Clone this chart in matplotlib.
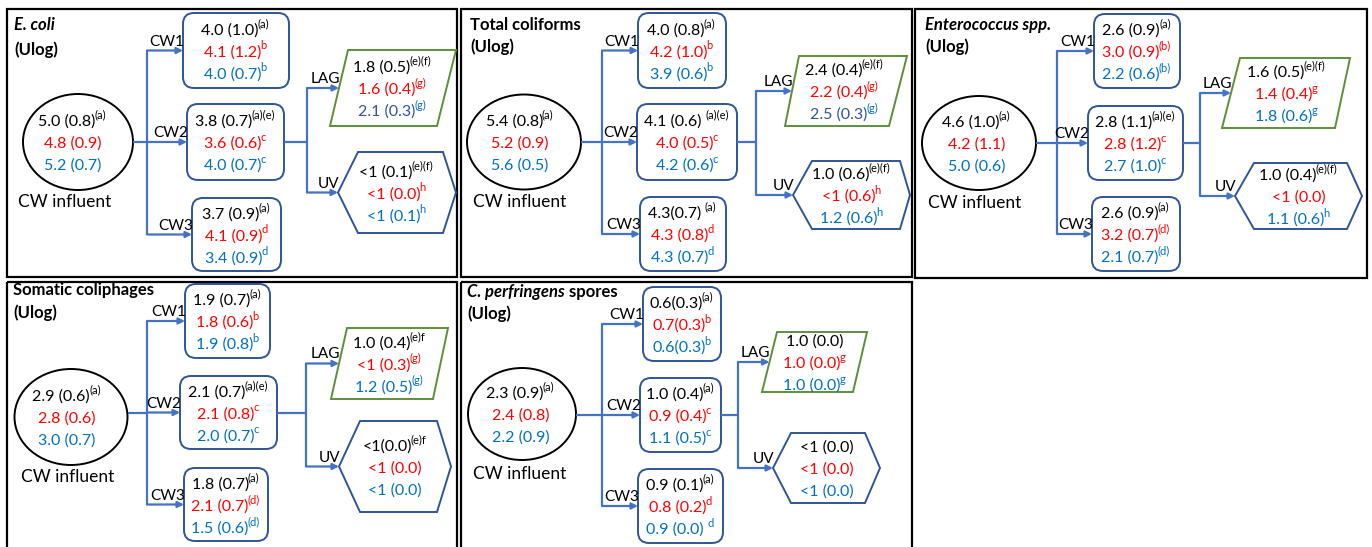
import matplotlib.pyplot as plt
from matplotlib.patches import Ellipse, FancyBboxPatch, Polygon, Rectangle

plt.rcParams["font.family"] = ["Lato", "DejaVu Sans"]

# ---- values ("text|superscript") ----
titles = [
    [("E. coli", "italic")],
    [("Total coliforms", "normal")],
    [("Enterococcus spp.", "italic")],
    [("Somatic coliphages", "normal")],
    [("C. perfringens", "italic"), (" spores", "normal")],
]
influent = [
    ["5.0 (0.8)|(a)", "4.8 (0.9)", "5.2 (0.7)"],
    ["5.4 (0.8)|(a)", "5.2 (0.9)", "5.6 (0.5)"],
    ["4.6 (1.0)|(a)", "4.2 (1.1)", "5.0 (0.6)"],
    ["2.9 (0.6)|(a)", "2.8 (0.6)", "3.0 (0.7)"],
    ["2.3 (0.9)|(a)", "2.4 (0.8)", "2.2 (0.9)"],
]
cw1 = [
    ["4.0 (1.0)|(a)", "4.1 (1.2)|b", "4.0 (0.7)|b"],
    ["4.0 (0.8)|(a)", "4.2 (1.0)|b", "3.9 (0.6)|b"],
    ["2.6 (0.9)|(a)", "3.0 (0.9)|(b)", "2.2 (0.6)|(b)"],
    ["1.9 (0.7)|(a)", "1.8 (0.6)|b", "1.9 (0.8)|b"],
    ["0.6(0.3)|(a)", "0.7(0.3)|b", "0.6(0.3)|b"],
]
cw2 = [
    ["3.8 (0.7)|(a)(e)", "3.6 (0.6)|c", "4.0 (0.7)|c"],
    ["4.1 (0.6) |(a)(e)", "4.0 (0.5)|c", "4.2 (0.6)|c"],
    ["2.8 (1.1)|(a)(e)", "2.8 (1.2)|c", "2.7 (1.0)|c"],
    ["2.1 (0.7)|(a)(e)", "2.1 (0.8)|c", "2.0 (0.7)|c"],
    ["1.0 (0.4)|(a)", "0.9 (0.4)|c", "1.1 (0.5)|c"],
]
cw3 = [
    ["3.7 (0.9)|(a)", "4.1 (0.9)|d", "3.4 (0.9)|d"],
    ["4.3(0.7) |(a)", "4.3 (0.8)|d", "4.3 (0.7)|d"],
    ["2.6 (0.9)|(a)", "3.2 (0.7)|(d)", "2.1 (0.7)|(d)"],
    ["1.8 (0.7)|(a)", "2.1 (0.7)|(d)", "1.5 (0.6)|(d)"],
    ["0.9 (0.1)|(a)", "0.8 (0.2)|d", "0.9 (0.0) |d"],
]
lag = [
    ["1.8 (0.5)|(e)(f)", "1.6 (0.4)|(g)", "2.1 (0.3)|(g)"],
    ["2.4 (0.4)|(e)(f)", "2.2 (0.4)|(g)", "2.5 (0.3)|(g)"],
    ["1.6 (0.5)|(e)(f)", "1.4 (0.4)|g", "1.8 (0.6)|g"],
    ["1.0 (0.4)|(e)f", "<1 (0.3)|(g)", "1.2 (0.5)|(g)"],
    ["1.0 (0.0)", "1.0 (0.0)|g", "1.0 (0.0)|g"],
]
uv = [
    ["<1 (0.1)|(e)(f)", "<1 (0.0)|h", "<1 (0.1)|h"],
    ["1.0 (0.6)|(e)(f)", "<1 (0.6)|h", "1.2 (0.6)|h"],
    ["1.0 (0.4)|(e)(f)", "<1 (0.0)", "1.1 (0.6)|h"],
    ["<1(0.0)|(e)f", "<1 (0.0)", "<1 (0.0)"],
    ["<1 (0.0)", "<1 (0.0)", "<1 (0.0)"],
]
cw_names = ["CW1", "CW2", "CW3"]

# ---- styles ----
LINE_COLORS = ["black", "#FF0000", "#0070C0"]
DARK_BLUE = "#2F5597"
lag_third_dark = [True, True, False, False, False]
ARROW = "#4472C4"
GREEN = "#5E8E3A"
VAL_FS, SUP_FS, LBL_FS, INFL_FS, TITLE_FS = 11.5, 8, 11, 12.5, 12
SPACING = 22

# ---- layout in pixels ----
layout = [
    dict(frame=(7, 9, 457, 277), title=(14, 25, 50), ell=(78, 142, 110, 96), ell_tx=73, infl=(65, 202),
         trunk=147, boxes=[(183, 13, 289, 88), (187, 104, 284, 180), (192, 198, 281, 271)],
         split=307, lag=(50, 126, 330, 348, 456, 437), uv=(152, 233, 338, 358, 443, 456)),
    dict(frame=(461, 9, 912, 277), title=(470, 25, 47), ell=(524, 142, 114, 95), ell_tx=520, infl=(520, 202),
         trunk=602, boxes=[(638, 13, 726, 88), (637, 104, 737, 180), (640, 197, 726, 271)],
         split=756, lag=(56, 126, 785, 799, 907, 889), uv=(161, 229, 793, 812, 900, 910)),
    dict(frame=(915, 9, 1367, 278), title=(925, 25, 47), ell=(979, 143, 114, 94), ell_tx=977, infl=(975, 203),
         trunk=1057, boxes=[(1094, 14, 1180, 88), (1088, 106, 1183, 180), (1092, 197, 1180, 271)],
         split=1200, lag=(58, 128, 1222, 1240, 1350, 1335), uv=(163, 229, 1235, 1254, 1347, 1362)),
    dict(frame=(7, 282, 457, 560), title=(13, 290, 313), ell=(71, 417, 113, 96), ell_tx=67, infl=(68, 477),
         trunk=147, boxes=[(185, 284, 270, 358), (180, 376, 277, 449), (184, 468, 268, 541)],
         split=306, lag=(328, 399, 331, 347, 448, 433), uv=(421, 512, 339, 360, 437, 451)),
    dict(frame=(461, 282, 912, 560), title=(467, 292, 314), ell=(522, 414, 108, 92), ell_tx=521, infl=(520, 474),
         trunk=602, boxes=[(643, 287, 721, 361), (640, 378, 721, 452), (638, 469, 723, 543)],
         split=738, lag=(332, 392, 762, 777, 867, 853), uv=(433, 503, 773, 791, 865, 880)),
]

fig = plt.figure(figsize=(13.72, 5.47), dpi=100)
ax = fig.add_axes([0, 0, 1, 1])
ax.set_xlim(0, 1372)
ax.set_ylim(547, 0)
ax.axis("off")
renderer = fig.canvas.get_renderer()


def width(t):
    return t.get_window_extent(renderer).width


def value_line(cx, cy, entry, color, sup_color=None):
    main, _, sup = entry.partition("|")
    em = VAL_FS * 100 / 72
    base = cy + 0.36 * em
    t1 = ax.text(0, base, main, fontsize=VAL_FS, color=color, ha="left", va="baseline")
    w1 = width(t1)
    t2, w2 = None, 0
    if sup:
        t2 = ax.text(0, base - 0.45 * em, sup, fontsize=SUP_FS, color=sup_color or color,
                     ha="left", va="baseline")
        w2 = width(t2)
    x0 = cx - (w1 + w2) / 2
    t1.set_x(x0)
    if t2 is not None:
        t2.set_x(x0 + w1 - 1)


def three_lines(cx, cy, entries, dark_third=False):
    for k, entry in enumerate(entries):
        color = LINE_COLORS[k]
        sup_color = None
        if k == 2 and dark_third:
            color, sup_color = DARK_BLUE, LINE_COLORS[2]
        value_line(cx, cy + (k - 1) * SPACING, entry, color, sup_color)


def seg(xs, ys):
    ax.plot(xs, ys, color=ARROW, lw=1.6, solid_capstyle="butt")


def arrow(x0, x1, y, label):
    ax.annotate("", xy=(x1, y), xytext=(x0, y),
                arrowprops=dict(arrowstyle="-|>", color=ARROW, lw=1.6, mutation_scale=9,
                                shrinkA=0, shrinkB=0))
    ax.text(x1 + 1, y - 5, label, fontsize=LBL_FS, ha="right", va="baseline")


for i, L in enumerate(layout):
    x0, y0, x1, y1 = L["frame"]
    ax.add_patch(Rectangle((x0, y0), x1 - x0, y1 - y0, fill=False, ec="black", lw=1.6))

    # title
    tx, ty, uy = L["title"]
    for text, style in titles[i]:
        t = ax.text(tx, ty, text, fontsize=TITLE_FS, fontweight="bold", fontstyle=style,
                    ha="left", va="center")
        tx += width(t)
    ax.text(L["title"][0], uy, "(Ulog)", fontsize=TITLE_FS, fontweight="bold", ha="left", va="center")

    # influent ellipse
    ecx, ecy, ew, eh = L["ell"]
    ax.add_patch(Ellipse((ecx, ecy), ew, eh, fill=False, ec="black", lw=1.4))
    three_lines(L["ell_tx"], ecy, influent[i])
    ax.text(L["infl"][0], L["infl"][1], "CW influent", fontsize=INFL_FS, ha="center", va="center")

    # constructed wetlands
    box_cy = [(b[1] + b[3]) / 2 for b in L["boxes"]]
    seg([ecx + ew / 2, L["trunk"]], [box_cy[1], box_cy[1]])
    seg([L["trunk"], L["trunk"]], [box_cy[0], box_cy[2]])
    for k, (bx0, by0, bx1, by1) in enumerate(L["boxes"]):
        ax.add_patch(FancyBboxPatch((bx0, by0), bx1 - bx0, by1 - by0,
                                    boxstyle="round,pad=0,rounding_size=11",
                                    fill=False, ec=DARK_BLUE, lw=1.4))
        arrow(L["trunk"], bx0, box_cy[k], cw_names[k])
        three_lines((bx0 + bx1) / 2, box_cy[k], [cw1, cw2, cw3][k][i])

    # LAG and UV
    top, bot, bl, tl, tr, br = L["lag"]
    lag_cy = (top + bot) / 2
    ax.add_patch(Polygon([(bl, bot), (tl, top), (tr, top), (br, bot)], closed=True,
                         fill=False, ec=GREEN, lw=1.4))
    three_lines((bl + tl + tr + br) / 4, lag_cy, lag[i], lag_third_dark[i])

    utop, ubot, ul, utl, utr, ur = L["uv"]
    uv_cy = (utop + ubot) / 2
    ax.add_patch(Polygon([(ul, uv_cy), (utl, utop), (utr, utop), (ur, uv_cy), (utr, ubot), (utl, ubot)],
                         closed=True, fill=False, ec=DARK_BLUE, lw=1.4))
    three_lines((ul + ur) / 2, uv_cy, uv[i])

    box2 = L["boxes"][1]
    seg([box2[2], L["split"]], [box_cy[1], box_cy[1]])
    seg([L["split"], L["split"]], [lag_cy, uv_cy])
    arrow(L["split"], (bl + tl) / 2, lag_cy, "LAG")
    arrow(L["split"], ul, uv_cy, "UV")

fig.savefig("out.png", dpi=100)
